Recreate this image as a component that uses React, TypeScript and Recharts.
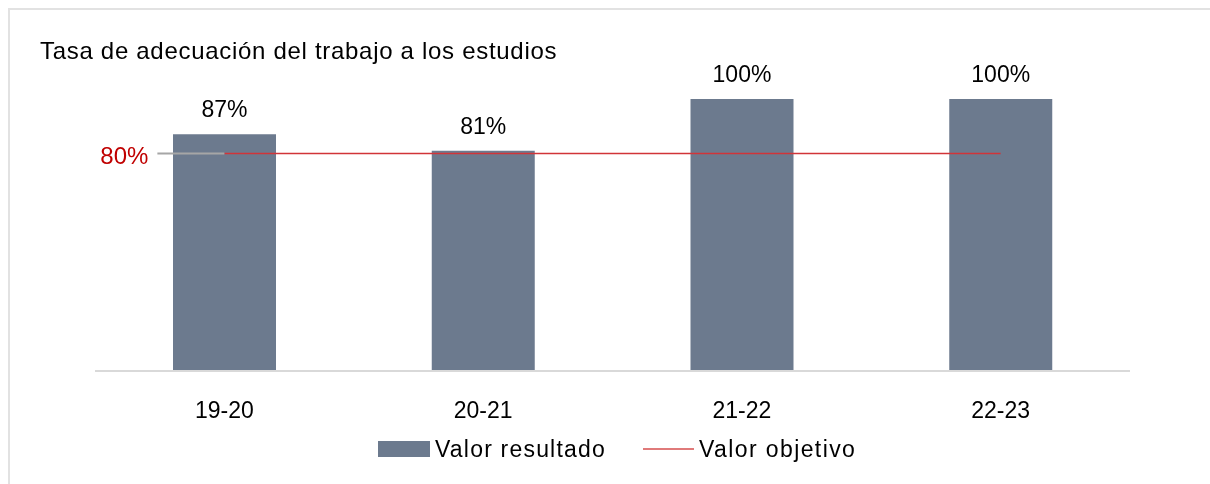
import React from 'react';
import {ComposedChart, Bar, Line, XAxis, YAxis, Legend, LabelList} from 'recharts';

const categories = ['19-20', '20-21', '21-22', '22-23'];
const valorResultado = [87, 81, 100, 100];
const valorObjetivo = [80, 80, 80, 80];

const data = categories.map((curso, i) => ({
    curso,
    resultado: valorResultado[i],
    objetivo: valorObjetivo[i],
}));

const FONT = '"Liberation Sans", Arial, sans-serif';
const BAR_COLOR = '#6c7a8e';
const LINE_COLOR = '#d13438';

const CourseTick = (props: any) => {
    const {x, y, payload} = props;
    return (
        <text x={x} y={y + 47} textAnchor="middle" fontSize={23} fontFamily={FONT} fill="#000">
            {payload.value}
        </text>
    );
};

const BarValue = (props: any) => {
    const {x, y, width, value} = props;
    return (
        <text x={x + width / 2} y={y - 17} textAnchor="middle" fontSize={23} fontFamily={FONT} fill="#000">
            {value}%
        </text>
    );
};

// only the first point of the target line gets the red "80%" with a grey leader
const TargetValue = (props: any) => {
    const {x, y, value, index} = props;
    if (index !== 0) return null;
    return (
        <g>
            <line x1={x - 67} x2={x} y1={y} y2={y} stroke="#a6a6a6" strokeWidth={2}/>
            <text x={x - 76} y={y + 11} textAnchor="end" fontSize={24} fontFamily={FONT} fill="#c00000">
                {value}%
            </text>
        </g>
    );
};

const ChartLegend = () => (
    <div style={{position: 'relative', height: 40, width: 1202, fontFamily: FONT, fontSize: 23, color: '#000'}}>
        <div style={{position: 'absolute', left: 370, top: 12, width: 52, height: 16, background: BAR_COLOR}}/>
        <span style={{position: 'absolute', left: 427, top: 0, lineHeight: '40px', letterSpacing: 1.2, whiteSpace: 'nowrap'}}>
            Valor resultado
        </span>
        <div style={{position: 'absolute', left: 635, top: 19, width: 51, height: 2, background: '#e07a7a'}}/>
        <span style={{position: 'absolute', left: 691, top: 0, lineHeight: '40px', letterSpacing: 1.4, whiteSpace: 'nowrap'}}>
            Valor objetivo
        </span>
    </div>
);

const App: React.FunctionComponent = () => {
    return (
        <div style={{position: 'fixed', left: 8, top: 8, width: 1202, height: 476, overflow: 'hidden'}}>
            <div style={{
                position: 'absolute', left: 0, top: 0, width: 1202, height: 476, boxSizing: 'border-box',
                borderTop: '2px solid #e2e2e2', borderLeft: '2px solid #e2e2e2',
            }}/>
            <div style={{position: 'absolute', left: 0, top: 0}}>
                <ComposedChart width={1202} height={476} data={data}
                               margin={{top: 91, right: 80, left: 87, bottom: 15}}>
                    <text x={32} y={51} fontSize={24} fontFamily={FONT} letterSpacing={0.7} fill="#000">
                        Tasa de adecuación del trabajo a los estudios
                    </text>
                    <XAxis dataKey="curso" interval={0} height={58} tickLine={false} tickSize={0} tickMargin={0}
                           axisLine={{stroke: '#d9d9d9', strokeWidth: 2}} tick={<CourseTick/>}/>
                    <YAxis hide domain={[0, 100]}/>
                    <Legend verticalAlign="bottom" content={<ChartLegend/>}
                            wrapperStyle={{left: 0, width: 1202, bottom: 15, height: 40}}/>
                    <Bar dataKey="resultado" name="Valor resultado" fill={BAR_COLOR} barSize={103}
                         isAnimationActive={false}>
                        <LabelList dataKey="resultado" content={<BarValue/>}/>
                    </Bar>
                    <Line dataKey="objetivo" name="Valor objetivo" stroke={LINE_COLOR} strokeWidth={1.5}
                          dot={false} activeDot={false} isAnimationActive={false}>
                        <LabelList dataKey="objetivo" content={<TargetValue/>}/>
                    </Line>
                </ComposedChart>
            </div>
        </div>
    );
};

export default App;
